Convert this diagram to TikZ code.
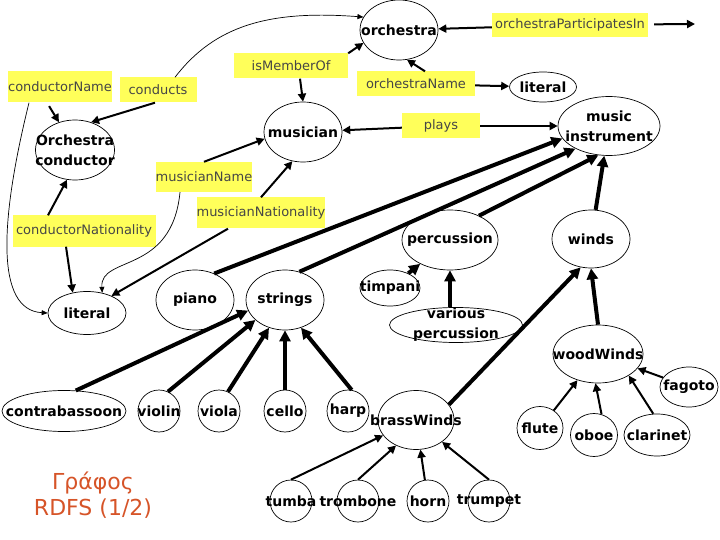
\documentclass[tikz,border=0pt]{standalone}
\usepackage{fontspec}
\setmainfont{DejaVu Sans}
\usetikzlibrary{shapes.geometric,arrows.meta}
\definecolor{propyellow}{RGB}{255,255,90}
\definecolor{proptext}{RGB}{70,70,70}
\definecolor{titlered}{RGB}{214,84,40}

\begin{document}
\begin{tikzpicture}[x=1pt, y=-1pt,
  cls/.style 2 args={ellipse, draw, line width=0.7pt, inner sep=0pt, minimum width=#1, minimum height=#2},
  every label/.style={font=\bfseries\fontsize{14}{20}\selectfont, align=center, inner sep=0pt},
  prop/.style 2 args={fill=propyellow, text=proptext, font=\fontsize{13}{15}\selectfont, inner sep=0pt, minimum width=#1, minimum height=#2},
  sub/.style={line width=4pt, -{Triangle[length=11pt,width=11pt]}},
  rel/.style={line width=2pt, -{Triangle[length=8pt,width=8pt]}},
  link/.style={line width=0.7pt, -{Triangle[length=6pt,width=5pt]}}]

\useasboundingbox (0,0) rectangle (720,540);

\node[cls={78pt}{60pt}, label=center:orchestra] (orchestra) at (399,30) {};
\node[cls={67pt}{30pt}, label=center:literal] (litA) at (543,87) {};
\node[cls={78pt}{60pt}, label=center:musician] (musician) at (303,132) {};
\node[cls={102pt}{59pt}, label={center:{music\\instrument}}] (instrument) at (609,126) {};
\node[cls={79pt}{60pt}, label={center:{Orchestra\\conductor}}] (conductor) at (75,150) {};
\node[cls={96pt}{60pt}, label=center:percussion] (percussion) at (450,240) {};
\node[cls={78pt}{58pt}, label=center:winds] (winds) at (591,239) {};
\node[cls={60pt}{36pt}, label=center:timpani] (timpani) at (390,288) {};
\node[cls={133pt}{35pt}, label={center:{various\\percussion}}] (various) at (456,325) {};
\node[cls={78pt}{43pt}, label=center:literal] (litB) at (87,313) {};
\node[cls={78pt}{60pt}, label=center:piano] (piano) at (195,300) {};
\node[cls={78pt}{60pt}, label=center:strings] (strings) at (285,300) {};
\node[cls={90pt}{58pt}, label=center:woodWinds] (woodWinds) at (598,354) {};
\node[cls={58pt}{40pt}, label=center:fagoto] (fagoto) at (689,387) {};
\node[cls={124pt}{41pt}, label=center:contrabassoon] (contrabassoon) at (64,411) {};
\node[cls={42pt}{42pt}, label=center:violin] (violin) at (159,411) {};
\node[cls={42pt}{42pt}, label=center:viola] (viola) at (219,411) {};
\node[cls={42pt}{42pt}, label=center:cello] (cello) at (285,411) {};
\node[cls={42pt}{42pt}, label=center:harp] (harp) at (348,411) {};
\node[cls={76pt}{59pt}, label=center:brassWinds] (brassWinds) at (416,420) {};
\node[cls={46pt}{43pt}, label=center:flute] (flute) at (540,428) {};
\node[cls={47pt}{43pt}, label=center:oboe] (oboe) at (594,435) {};
\node[cls={66pt}{42pt}, label=center:clarinet] (clarinet) at (657,435) {};
\node[cls={42pt}{42pt}, label=center:tumba] (tumba) at (291,501) {};
\node[cls={42pt}{42pt}, label=center:trombone] (trombone) at (358,501) {};
\node[cls={42pt}{42pt}, label=center:horn] (horn) at (428,501) {};
\node[cls={42pt}{42pt}, label=center:trumpet] (trumpet) at (489,501) {};

\node[prop={96pt}{31pt}] (conductorName) at (60,87) {conductorName};
\node[prop={77pt}{25pt}] (conducts) at (158,90) {conducts};
\node[prop={114pt}{25pt}] (isMemberOf) at (291,66) {isMemberOf};
\node[prop={118pt}{25pt}] (orchestraName) at (416,84) {orchestraName};
\node[prop={156pt}{24pt}] (participates) at (570,25) {orchestraParticipatesIn};
\node[prop={78pt}{25pt}] (plays) at (441,126) {plays};
\node[prop={96pt}{30pt}] (musicianName) at (204,177) {musicianName};
\node[prop={126pt}{31pt}] (musicianNationality) at (261,213) {musicianNationality};
\node[prop={143pt}{31pt}] (conductorNationality) at (84,231) {conductorNationality};
\coordinate (participatesEnd) at (695,24);

\node[text=titlered, font=\fontsize{22}{26}\selectfont, align=center] (title) at (93,495) {Γράφος\\RDFS (1/2)};

\draw[rel, shorten <=4pt] ([xshift=-13pt]conductorName.south) -- (conductor.120);
\draw[rel] ([xshift=-3pt]conducts.south) -- (conductor.60);
\draw[rel] ([xshift=9pt]isMemberOf.south) -- (musician.north);
\draw[rel] (isMemberOf.north east) -- (orchestra.200);
\draw[rel] ([xshift=9pt]orchestraName.north) -- (orchestra.285);
\draw[rel] (orchestraName) -- (litA);
\draw[rel] (participates) -- (orchestra);
\draw[rel, shorten <=6pt] (participates) -- (participatesEnd);
\draw[rel] (plays) -- (musician);
\draw[rel] (plays) -- (instrument);
\draw[rel] (musicianName.north) -- (musician.190);
\draw[rel] (musicianNationality.north) -- (musician.250);
\draw[rel] ([xshift=-33pt]musicianNationality.south) -- (litB.35);
\draw[rel] ([xshift=-36pt]conductorNationality.north) -- (conductor.255);
\draw[rel] ([xshift=-18pt]conductorNationality.south) -- (litB.125);

\draw[link] ([xshift=17pt]conducts.north) .. controls (215,25) and (270,10) .. (orchestra.160);
\draw[link] ([xshift=-31pt]conductorName.south) .. controls (0,220) and (-5,310) .. (litB.west);
\draw[link] ([xshift=-24pt]musicianName.south) .. controls (172,275) and (100,255) .. (litB.53);

\draw[sub] (piano.54) -- (instrument.195);
\draw[sub] (strings.63) -- (instrument.214);
\draw[sub] (percussion.40) -- (instrument.250);
\draw[sub] (winds) -- (instrument);
\draw[sub] (timpani) -- (percussion);
\draw[sub] ([xshift=-6pt]various.north) -- (percussion.south);
\draw[sub] (woodWinds.north) -- (winds.south);
\draw[sub] (brassWinds.25) -- (winds.250);

\draw[sub] (contrabassoon.60) -- (strings.196);
\draw[sub] (violin.65) -- (strings.214);
\draw[sub] (viola.65) -- (strings.240);
\draw[sub] (cello) -- (strings);
\draw[sub] (harp.80) -- (strings.300);

\draw[rel] (tumba.north) -- (brassWinds.205);
\draw[rel] (trombone.north) -- (brassWinds.232);
\draw[rel] (horn) -- (brassWinds);
\draw[rel] (trumpet.north) -- (brassWinds.320);

\draw[rel] (flute) -- (woodWinds);
\draw[rel] (oboe.70) -- (woodWinds.265);
\draw[rel] (clarinet.100) -- (woodWinds.325);
\draw[rel] (fagoto) -- (woodWinds);

\end{tikzpicture}
\end{document}
